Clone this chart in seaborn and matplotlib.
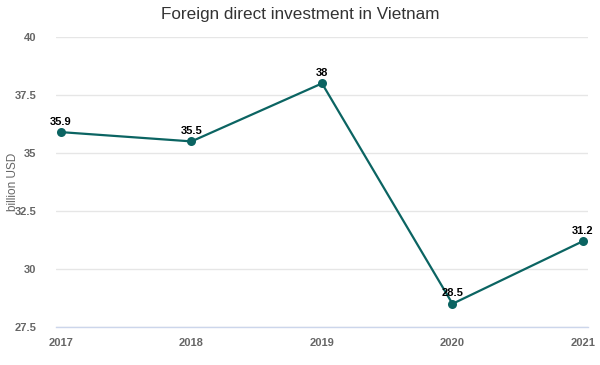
import numpy as np
import pandas as pd
import matplotlib
matplotlib.use("Agg")
import matplotlib.pyplot as plt
import seaborn as sns

years = [2017, 2018, 2019, 2020, 2021]
fdi = [35.9, 35.5, 38.0, 28.5, 31.2]
labels = ["35.9", "35.5", "38", "28.5", "31.2"]
yticks = [27.5, 30, 32.5, 35, 37.5, 40]

df = pd.DataFrame({"year": years, "fdi": fdi})

sns.set_style("white")
plt.rcParams["font.family"] = ["Liberation Sans", "DejaVu Sans"]

fig = plt.figure(figsize=(6, 3.65), dpi=100)
ax = fig.add_axes([56 / 600, 1 - 327 / 365, 532 / 600, 290 / 365])

line_col = "#0b6462"
sns.lineplot(data=df, x="year", y="fdi", ax=ax, color=line_col, linewidth=1.6,
             marker="o", markersize=6.5, markeredgewidth=0, zorder=3)

for x, y, t in zip(years, fdi, labels):
    ax.annotate(t, (x, y), xytext=(0, 4), textcoords="offset points",
                ha="center", va="bottom", fontsize=8, fontweight="bold",
                color="#000000", zorder=4)

ax.set_xlim(2017 - 5 / 130.5, 2021 + 5 / 130.5)
ax.set_ylim(27.5, 40)
ax.set_yticks(yticks)
ax.set_yticklabels([f"{v:g}" for v in yticks])
ax.set_xticks(years)
ax.set_xticklabels([str(y) for y in years])

ax.grid(axis="y", color="#e6e6e6", linewidth=1)
ax.grid(axis="x", visible=False)
for s in ["top", "right", "left"]:
    ax.spines[s].set_visible(False)
ax.spines["bottom"].set_color("#ccd6eb")
ax.spines["bottom"].set_linewidth(1)

ax.tick_params(axis="y", length=0, pad=14, labelsize=8, labelcolor="#666666")
ax.tick_params(axis="x", length=6, width=1, color="#ccd6eb", pad=2,
               labelsize=8, labelcolor="#666666")
for lab in ax.get_xticklabels() + ax.get_yticklabels():
    lab.set_fontweight("bold")

ax.set_xlabel("")
ax.set_ylabel("billion USD", fontsize=8.5, color="#666666")
ax.yaxis.set_label_coords(-37 / 532, 0.5)
fig.text(0.5, 1 - 15 / 365, "Foreign direct investment in Vietnam",
         ha="center", va="center", fontsize=12.3, color="#333333")

fig.savefig("out.png", dpi=100)
